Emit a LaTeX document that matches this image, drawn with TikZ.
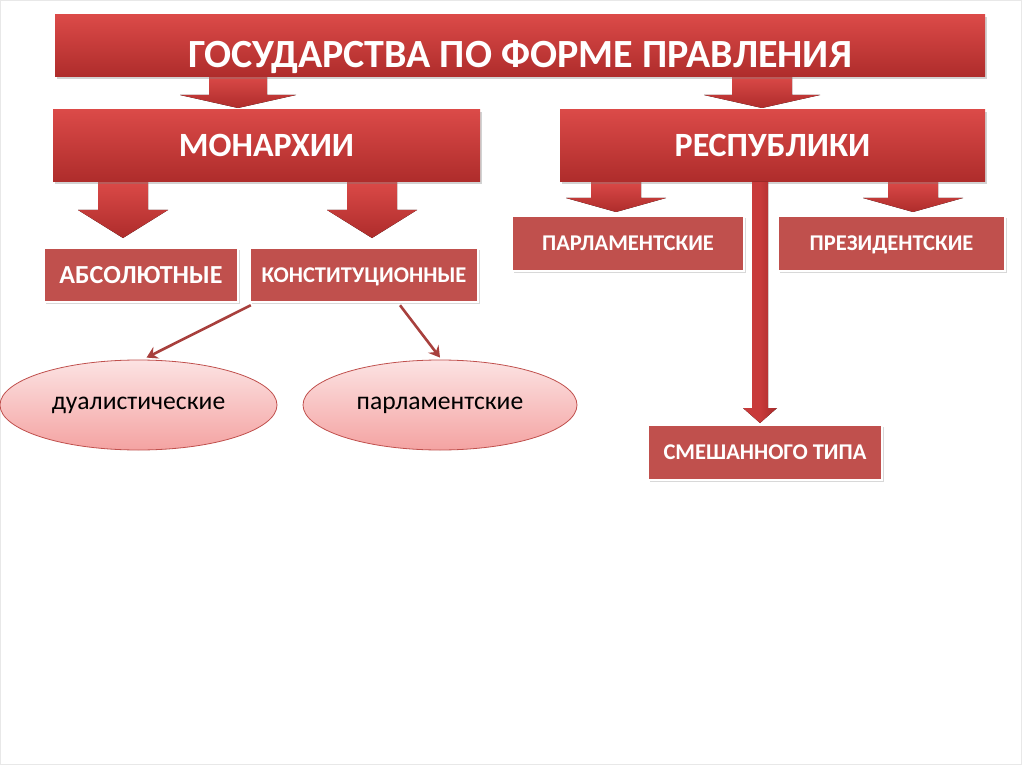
\documentclass[tikz,border=0pt]{standalone}
\usepackage{fontspec}
\setmainfont{Carlito}
\usetikzlibrary{shapes.geometric,shadows,arrows.meta,calc}
\definecolor{rdtop}{HTML}{DB4A48}
\definecolor{rdbot}{HTML}{AE2C2B}
\definecolor{rdflat}{HTML}{C0504D}
\definecolor{rdline}{HTML}{A8403D}
\definecolor{rdmid}{HTML}{C83A3A}
\definecolor{rddark}{HTML}{A52A2A}
\definecolor{pinktop}{HTML}{FCE3E3}
\definecolor{pinkbot}{HTML}{F4A3A2}
\definecolor{ovline}{HTML}{C0504D}
\newcommand\blkarrow[6]{%
  \fill[top color=rdtop,bottom color=rdbot]
    (#1-#5,#2) -- (#1+#5,#2) -- (#1+#5,#3) -- (#1+#6,#3) -- (#1,#4)
    -- (#1-#6,#3) -- (#1-#5,#3) -- cycle;}
\begin{document}
\begin{tikzpicture}[x=1pt,y=-1pt,
  bigbox/.style={rectangle,inner sep=0pt,top color=rdtop,bottom color=rdbot,
    draw=none,drop shadow={opacity=0.35,shadow xshift=2pt,shadow yshift=-2pt},
    text=white,text height=22pt,text depth=0pt,
    font=\bfseries\fontsize{34}{40}\selectfont},
  smallbox/.style={rectangle,inner sep=0pt,fill=rdflat,draw=white,line width=2.5pt,
    drop shadow={opacity=0.3,shadow xshift=2pt,shadow yshift=-2pt},
    text=white,text height=14.5pt,text depth=0pt,
    font=\bfseries\fontsize{22.5}{26}\selectfont},
  oval/.style={ellipse,inner sep=0pt,draw=ovline,line width=0.8pt,
    top color=pinktop,bottom color=pinkbot,text=black,
    font=\fontsize{25.6}{30}\selectfont},
  thinarr/.style={draw=rdline,line width=2.6pt,-{Stealth[length=11pt,width=13pt,inset=4pt]}}]
\useasboundingbox (0,0) rectangle (1024,767);
\fill[white] (0,0) rectangle (1024,767);
\draw[gray!18,line width=1pt] (0.5,0.5) rectangle (1021,764);

% block arrows
\blkarrow{238}{76}{95}{108}{29}{58}
\blkarrow{762}{76}{95}{108}{30}{58}
\blkarrow{123}{181}{210}{238}{25}{45}
\blkarrow{372}{181}{210}{238}{25}{45}
\blkarrow{616}{181}{198}{212}{25}{50}
\blkarrow{913}{181}{198}{212}{25}{50}

\node[bigbox,minimum width=930pt,minimum height=62pt,text height=44pt,
  font=\bfseries\fontsize{40}{46}\selectfont] (title) at (520,46) {ГОСУДАРСТВА ПО ФОРМЕ ПРАВЛЕНИЯ};
\node[bigbox,minimum width=427pt,minimum height=72pt] (mon) at (266.5,146) {МОНАРХИИ};
\node[bigbox,minimum width=425pt,minimum height=72pt] (rep) at (772.5,146) {РЕСПУБЛИКИ};

% vertical arrow to mixed
\coordinate (vtop) at (760,182);
\fill[left color=rdmid,right color=rddark,middle color=rdmid]
  ($(vtop)+(-8,0)$) -- ($(vtop)+(8,0)$) -- ($(vtop)+(8,226)$) -- ($(vtop)+(17,226)$)
  -- ($(vtop)+(0,241)$) -- ($(vtop)+(-17,226)$) -- ($(vtop)+(-8,226)$) -- cycle;

\node[smallbox,minimum width=194pt,minimum height=54pt,text height=16.7pt,
  font=\bfseries\fontsize{26}{30}\selectfont] (abs) at (141,275) {АБСОЛЮТНЫЕ};
\node[smallbox,minimum width=228pt,minimum height=54pt] (konst) at (364,275) {КОНСТИТУЦИОННЫЕ};
\node[smallbox,minimum width=232pt,minimum height=55pt] (parl) at (628,243.5) {ПАРЛАМЕНТСКИЕ};
\node[smallbox,minimum width=227pt,minimum height=55pt] (pres) at (891.5,243.5) {ПРЕЗИДЕНТСКИЕ};
\node[smallbox,minimum width=234pt,minimum height=55pt] (mix) at (765,452.5) {СМЕШАННОГО ТИПА};

\node[oval,minimum width=277pt,minimum height=90pt] (dual) at (138.5,405) {дуалистические};
\node[oval,minimum width=274pt,minimum height=90pt] (parlm) at (440,405) {парламентские};

\draw[thinarr] ([xshift=2pt,yshift=-2pt]konst.south west) -- ([xshift=8pt,yshift=2pt]dual.north);
\draw[thinarr] ([xshift=36pt,yshift=-2pt]konst.south) -- ([yshift=2pt]parlm.north);
\end{tikzpicture}
\end{document}
